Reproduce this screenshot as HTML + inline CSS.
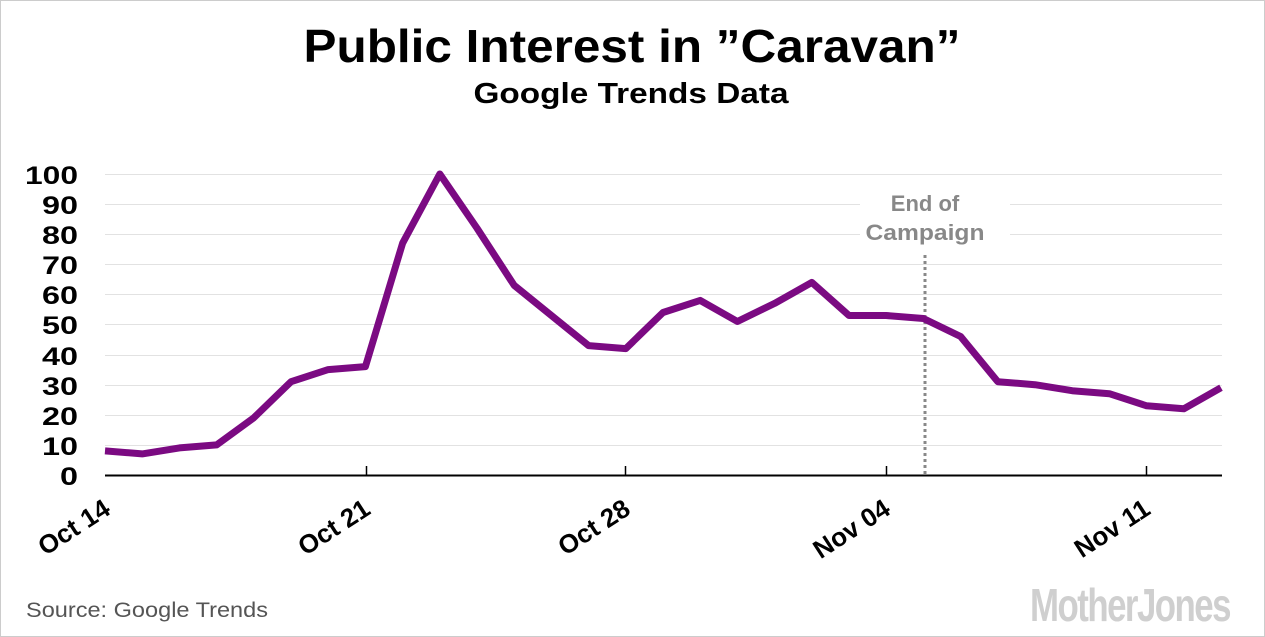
<!DOCTYPE html>
<html><head><meta charset="utf-8"><style>
html,body{margin:0;padding:0;background:#fff}
svg{display:block}
text{font-family:"Liberation Sans",Arial,sans-serif}
</style></head><body>
<svg width="1265" height="637" viewBox="0 0 1265 637" xmlns="http://www.w3.org/2000/svg">
<rect x="0.5" y="0.5" width="1264" height="636" fill="#fff" stroke="#ccc"/>
<text x="632" y="62" text-anchor="middle" font-size="46" font-weight="bold" fill="#000" textLength="657" lengthAdjust="spacingAndGlyphs">Public Interest in ”Caravan”</text>
<text x="631" y="103" text-anchor="middle" font-size="29" font-weight="bold" fill="#000" textLength="315" lengthAdjust="spacingAndGlyphs">Google Trends Data</text>
<g stroke="#e2e2e2" stroke-width="1">
<line x1="105" x2="1222" y1="174.5" y2="174.5"/><line x1="105" x2="1222" y1="204.5" y2="204.5"/>
<line x1="105" x2="1222" y1="234.5" y2="234.5"/><line x1="105" x2="1222" y1="264.5" y2="264.5"/>
<line x1="105" x2="1222" y1="294.5" y2="294.5"/><line x1="105" x2="1222" y1="324.5" y2="324.5"/>
<line x1="105" x2="1222" y1="355.5" y2="355.5"/><line x1="105" x2="1222" y1="385.5" y2="385.5"/>
<line x1="105" x2="1222" y1="415.5" y2="415.5"/><line x1="105" x2="1222" y1="445.5" y2="445.5"/>
</g>
<g font-size="25" font-weight="bold" text-anchor="end" fill="#000">
<text x="78" y="184" textLength="53" lengthAdjust="spacingAndGlyphs">100</text>
<text x="78" y="214" textLength="36" lengthAdjust="spacingAndGlyphs">90</text>
<text x="78" y="244" textLength="36" lengthAdjust="spacingAndGlyphs">80</text>
<text x="78" y="274" textLength="36" lengthAdjust="spacingAndGlyphs">70</text>
<text x="78" y="304" textLength="36" lengthAdjust="spacingAndGlyphs">60</text>
<text x="78" y="334" textLength="36" lengthAdjust="spacingAndGlyphs">50</text>
<text x="78" y="365" textLength="36" lengthAdjust="spacingAndGlyphs">40</text>
<text x="78" y="395" textLength="36" lengthAdjust="spacingAndGlyphs">30</text>
<text x="78" y="425" textLength="36" lengthAdjust="spacingAndGlyphs">20</text>
<text x="78" y="455" textLength="36" lengthAdjust="spacingAndGlyphs">10</text>
<text x="78" y="485" textLength="18" lengthAdjust="spacingAndGlyphs">0</text>
</g>
<rect x="860" y="190" width="150" height="58" fill="#fff"/>
<text x="925" y="211" text-anchor="middle" font-size="22" font-weight="bold" fill="#888">End of</text>
<text x="925" y="240" text-anchor="middle" font-size="22" font-weight="bold" fill="#888" textLength="119" lengthAdjust="spacingAndGlyphs">Campaign</text>
<line x1="925" x2="925" y1="255" y2="475" stroke="#888" stroke-width="3" stroke-dasharray="3,3"/>
<line x1="105" x2="1222" y1="475.5" y2="475.5" stroke="#000" stroke-width="2"/>
<g stroke="#000" stroke-width="1.5">
<line x1="366.5" x2="366.5" y1="466" y2="475"/><line x1="625.5" x2="625.5" y1="466" y2="475"/>
<line x1="886.5" x2="886.5" y1="466" y2="475"/><line x1="1146.5" x2="1146.5" y1="466" y2="475"/>
</g>
<polyline fill="none" stroke="#7b0a82" stroke-width="7" stroke-linejoin="round" points="105,450.9 142.2,453.9 179.4,447.9 216.6,444.9 253.8,417.8 291,381.7 328.2,369.6 365.4,366.6 402.6,243.2 439.8,174 477,228.2 514.2,285.4 551.4,315.5 588.6,345.6 625.8,348.6 663,312.5 700.2,300.4 737.4,321.5 774.6,303.4 811.8,282.4 849,315.5 886.2,315.5 923.4,318.5 960.6,336.5 997.8,381.7 1035,384.7 1072.2,390.7 1109.4,393.7 1146.6,405.8 1183.8,408.8 1221,387.7"/>
<g font-size="26" font-weight="bold" text-anchor="end" fill="#000">
<text transform="translate(112,513) rotate(-33)">Oct 14</text>
<text transform="translate(372,513) rotate(-33)">Oct 21</text>
<text transform="translate(632,513) rotate(-33)">Oct 28</text>
<text transform="translate(892,513) rotate(-33)">Nov 04</text>
<text transform="translate(1152,513) rotate(-33)">Nov 11</text>
</g>
<text x="26" y="617" font-size="21" fill="#555" textLength="242" lengthAdjust="spacingAndGlyphs">Source:  Google Trends</text>
<text x="1230" y="621" text-anchor="end" font-size="46" font-weight="bold" fill="#cfcfcf" textLength="200" lengthAdjust="spacingAndGlyphs" letter-spacing="-2">MotherJones</text>
</svg>
</body></html>
